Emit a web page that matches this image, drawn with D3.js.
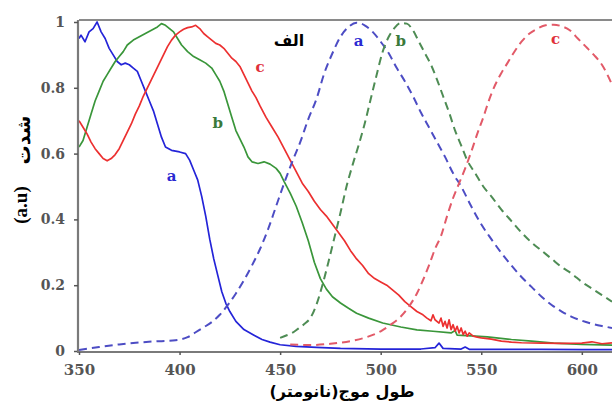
<!DOCTYPE html>
<html>
<head>
<meta charset="utf-8">
<script src="https://cdn.jsdelivr.net/npm/d3@7"></script>
<style>
  html, body { margin: 0; padding: 0; background: #fff; }
  svg { display: block; }
</style>
</head>
<body>
<svg id="chart" width="612" height="401"></svg>
<script>
// ---------- data ----------
const xTicks = [350, 400, 450, 500, 550, 600];
const yTicks = [0, 0.2, 0.4, 0.6, 0.8, 1];
const titleText = "الف";
const xLabel = "طول موج(نانومتر)";
const yLabelWord = "شدت";
const yLabelUnit = "(a.u)";

// absorption (solid)
const absA = [[350,0.95],[351,0.96],[353,0.94],[355,0.97],[357,0.98],[359,1.0],[361,0.97],[363,0.95],[365,0.92],[367,0.90],[369,0.88],[371,0.87],[373,0.875],[375,0.87],[377,0.86],[379,0.85],[381,0.82],[383,0.79],[385,0.76],[387,0.73],[389,0.69],[391,0.65],[393,0.62],[396,0.61],[400,0.605],[403,0.60],[405,0.58],[407,0.55],[409,0.52],[411,0.47],[413,0.41],[415,0.34],[417,0.28],[419,0.23],[421,0.18],[423,0.145],[425,0.12],[428,0.09],[432,0.065],[437,0.048],[441,0.035],[445,0.027],[450,0.019],[458,0.014],[468,0.011],[480,0.008],[500,0.006],[520,0.006],[527,0.01],[529,0.024],[531,0.008],[540,0.006],[542,0.012],[544,0.005],[560,0.005],[580,0.005],[600,0.004],[615,0.004]];
const absB = [[350,0.62],[352,0.64],[354,0.68],[356,0.72],[358,0.76],[360,0.79],[362,0.82],[364,0.84],[366,0.86],[368,0.88],[370,0.895],[372,0.91],[374,0.93],[377,0.945],[380,0.955],[383,0.965],[386,0.975],[389,0.985],[391,0.995],[393,0.99],[395,0.98],[397,0.97],[399,0.95],[401,0.93],[404,0.91],[407,0.895],[410,0.885],[413,0.875],[416,0.86],[418,0.84],[420,0.82],[422,0.79],[424,0.75],[426,0.71],[428,0.67],[430,0.645],[432,0.62],[434,0.59],[436,0.575],[439,0.57],[442,0.575],[445,0.568],[448,0.555],[450,0.54],[452,0.515],[455,0.48],[458,0.44],[461,0.39],[464,0.335],[467,0.27],[470,0.22],[473,0.188],[476,0.165],[480,0.146],[484,0.13],[488,0.115],[494,0.1],[501,0.085],[510,0.073],[518,0.064],[526,0.06],[535,0.055],[537,0.062],[538,0.048],[545,0.046],[553,0.043],[565,0.035],[575,0.03],[586,0.024],[600,0.02],[615,0.018]];
const absC = [[350,0.70],[352,0.68],[354,0.66],[356,0.635],[358,0.615],[360,0.60],[362,0.585],[364,0.578],[366,0.585],[368,0.597],[370,0.615],[372,0.64],[374,0.665],[376,0.69],[378,0.72],[380,0.745],[382,0.775],[384,0.80],[386,0.825],[388,0.85],[390,0.875],[392,0.90],[394,0.925],[396,0.945],[398,0.96],[400,0.97],[402,0.978],[404,0.983],[406,0.985],[408,0.99],[410,0.98],[412,0.965],[414,0.955],[416,0.945],[418,0.935],[420,0.93],[422,0.92],[424,0.905],[426,0.89],[428,0.88],[430,0.865],[432,0.84],[434,0.815],[436,0.79],[438,0.77],[440,0.745],[443,0.71],[446,0.68],[449,0.65],[452,0.615],[455,0.58],[458,0.545],[461,0.51],[464,0.485],[467,0.455],[470,0.43],[473,0.41],[476,0.385],[479,0.36],[482,0.335],[485,0.305],[488,0.28],[491,0.26],[494,0.235],[497,0.22],[500,0.21],[503,0.2],[506,0.185],[509,0.17],[512,0.15],[515,0.135],[518,0.12],[521,0.11],[523,0.1],[525,0.092],[526,0.11],[527,0.095],[529,0.085],[530,0.1],[531,0.075],[532,0.09],[533,0.07],[534,0.095],[535,0.065],[536,0.08],[537,0.06],[538,0.075],[539,0.055],[540,0.07],[541,0.05],[542,0.06],[543,0.045],[544,0.055],[546,0.045],[548,0.042],[550,0.04],[555,0.036],[560,0.03],[565,0.027],[570,0.025],[580,0.024],[590,0.023],[600,0.024],[605,0.028],[610,0.022],[615,0.025]];

// emission (dashed)
const emA = [[350,0.003],[360,0.012],[370,0.02],[380,0.026],[390,0.03],[398,0.033],[404,0.042],[408,0.057],[412,0.072],[416,0.088],[420,0.11],[424,0.14],[428,0.175],[432,0.215],[436,0.26],[440,0.31],[444,0.37],[448,0.44],[452,0.51],[456,0.575],[460,0.635],[464,0.705],[468,0.765],[472,0.845],[476,0.905],[480,0.955],[484,0.985],[488,0.998],[492,0.99],[496,0.97],[500,0.94],[504,0.905],[508,0.86],[512,0.82],[516,0.775],[520,0.725],[524,0.68],[528,0.635],[532,0.59],[536,0.54],[540,0.5],[545,0.44],[550,0.385],[555,0.34],[560,0.298],[565,0.26],[570,0.225],[575,0.195],[580,0.165],[585,0.14],[590,0.12],[595,0.104],[600,0.092],[605,0.083],[610,0.076],[615,0.07]];
const emB = [[450,0.04],[453,0.047],[456,0.055],[459,0.068],[462,0.082],[465,0.1],[468,0.14],[471,0.2],[474,0.27],[477,0.345],[480,0.42],[483,0.5],[486,0.565],[489,0.625],[492,0.69],[495,0.765],[498,0.84],[501,0.91],[504,0.955],[507,0.983],[510,0.997],[513,0.995],[516,0.975],[519,0.94],[522,0.905],[525,0.87],[528,0.825],[531,0.775],[534,0.725],[537,0.67],[540,0.625],[543,0.58],[547,0.54],[551,0.5],[555,0.47],[560,0.43],[565,0.395],[570,0.36],[575,0.33],[580,0.305],[585,0.28],[590,0.255],[595,0.235],[600,0.21],[605,0.19],[610,0.17],[615,0.15]];
const emC = [[455,0.02],[465,0.018],[475,0.022],[485,0.03],[493,0.042],[500,0.06],[505,0.08],[510,0.105],[514,0.135],[518,0.175],[521,0.215],[524,0.26],[527,0.31],[530,0.35],[533,0.41],[536,0.465],[539,0.51],[542,0.555],[545,0.605],[548,0.66],[551,0.71],[554,0.765],[557,0.81],[560,0.845],[563,0.875],[566,0.905],[570,0.94],[574,0.965],[578,0.98],[582,0.99],[586,0.992],[590,0.987],[594,0.975],[598,0.95],[602,0.925],[606,0.9],[610,0.87],[615,0.81]];

// curve labels: [text, wavelength, value]
const labelsA = [["a", 396, 0.53], ["a", 489, 0.94]];
const labelsB = [["b", 419, 0.69], ["b", 510, 0.94]];
const labelsC = [["c", 440, 0.86], ["c", 587, 0.945]];

// ---------- drawing ----------
const svg = d3.select("#chart");
const x = d3.scaleLinear().domain([350, 615]).range([79, 612]);
const y = d3.scaleLinear().domain([0, 1]).range([351, 22]);

const series = [
  {data: absA, color: "#2424d8", dash: null, w: 1.7},
  {data: absB, color: "#3a963a", dash: null, w: 1.7},
  {data: absC, color: "#ec3030", dash: null, w: 1.7},
  {data: emA, color: "#4d4dc4", dash: "8,5", w: 2},
  {data: emB, color: "#4e8c54", dash: "8,5", w: 2},
  {data: emC, color: "#e25a68", dash: "8,5", w: 2}
];

const line = d3.line().x(d => x(d[0])).y(d => y(d[1]));
const smooth = d3.line().x(d => x(d[0])).y(d => y(d[1])).curve(d3.curveMonotoneX);

svg.append("defs").append("clipPath").attr("id", "clip")
  .append("rect").attr("x", x(350)).attr("y", y(1.01)).attr("width", x(615) - x(350)).attr("height", y(0) - y(1.01) + 1);

const g = svg.append("g").attr("clip-path", "url(#clip)");
series.forEach(s => {
  g.append("path")
    .attr("d", (s.dash ? smooth : line)(s.data))
    .attr("fill", "none")
    .attr("stroke", s.color)
    .attr("stroke-width", s.w)
    .attr("stroke-dasharray", s.dash)
    .attr("stroke-linejoin", "round");
});

// frame top
svg.append("line")
  .attr("x1", x(350)).attr("x2", 612)
  .attr("y1", y(1.006)).attr("y2", y(1.006))
  .attr("stroke", "#8a8a8a").attr("stroke-width", 2);

const tickFont = "'DejaVu Serif', serif";

// axes
const yAxis = d3.axisLeft(y).tickValues(yTicks).tickSize(4).tickPadding(9)
  .tickFormat(d => (d === 0 || d === 1) ? String(d) : d3.format(".1f")(d));
const yg = svg.append("g").attr("transform", `translate(${x(350) - 1},0)`).call(yAxis);
yg.attr("font-family", null).attr("font-size", null);
yg.select(".domain").attr("stroke", "#7a7a7a").attr("stroke-width", 2.2)
  .attr("d", `M0,${y(1.006)}V${y(0) + 1}`);
yg.selectAll(".tick line").attr("stroke", "#555").attr("stroke-width", 1.5);
yg.selectAll(".tick text")
  .style("font-family", tickFont).style("font-weight", "bold")
  .style("font-size", "14px").style("fill", "#555");

const xAxis = d3.axisBottom(x).tickValues(xTicks).tickSize(3).tickPadding(9).tickFormat(d3.format("d"));
const xg = svg.append("g").attr("transform", `translate(0,${y(0) + 1})`).call(xAxis);
xg.attr("font-family", null).attr("font-size", null);
xg.select(".domain").attr("stroke", "#7a7a7a").attr("stroke-width", 2.2)
  .attr("d", `M${x(350) - 2},0H612`);
xg.selectAll(".tick line").attr("stroke", "#555").attr("stroke-width", 1.5);
xg.selectAll(".tick text")
  .style("font-family", tickFont).style("font-weight", "bold")
  .style("font-size", "15px").style("fill", "#555");

// curve labels
[[labelsA, "#2a2ad2"], [labelsB, "#3a7a3a"], [labelsC, "#e0303a"]].forEach(([labs, col]) => {
  labs.forEach(l => {
    svg.append("text")
      .attr("x", x(l[1])).attr("y", y(l[2]))
      .attr("text-anchor", "middle").attr("dominant-baseline", "middle")
      .style("font-family", tickFont).style("font-weight", "bold")
      .style("font-size", "15px").style("fill", col)
      .text(l[0]);
  });
});

// title
svg.append("text")
  .attr("x", 289).attr("y", 41)
  .attr("text-anchor", "middle").attr("dominant-baseline", "middle")
  .style("font-family", "'DejaVu Sans', sans-serif").style("font-weight", "bold")
  .style("font-size", "16px").style("fill", "#000")
  .text(titleText);

// axis titles
svg.append("text")
  .attr("x", 342).attr("y", 392)
  .attr("text-anchor", "middle").attr("dominant-baseline", "middle")
  .attr("direction", "rtl")
  .style("font-family", "'DejaVu Sans', sans-serif").style("font-weight", "bold")
  .style("font-size", "16px").style("fill", "#000")
  .text(xLabel);

svg.append("text")
  .attr("transform", "translate(24,140) rotate(-90)")
  .attr("text-anchor", "middle").attr("dominant-baseline", "middle")
  .style("font-family", "'DejaVu Sans', sans-serif").style("font-weight", "bold")
  .style("font-size", "19px").style("fill", "#000")
  .text(yLabelWord);
svg.append("text")
  .attr("transform", "translate(23,205) rotate(-90)")
  .attr("text-anchor", "middle").attr("dominant-baseline", "middle")
  .style("font-family", "'Liberation Serif', serif").style("font-weight", "bold")
  .style("font-size", "19px").style("fill", "#000")
  .text(yLabelUnit);
</script>
</body>
</html>
